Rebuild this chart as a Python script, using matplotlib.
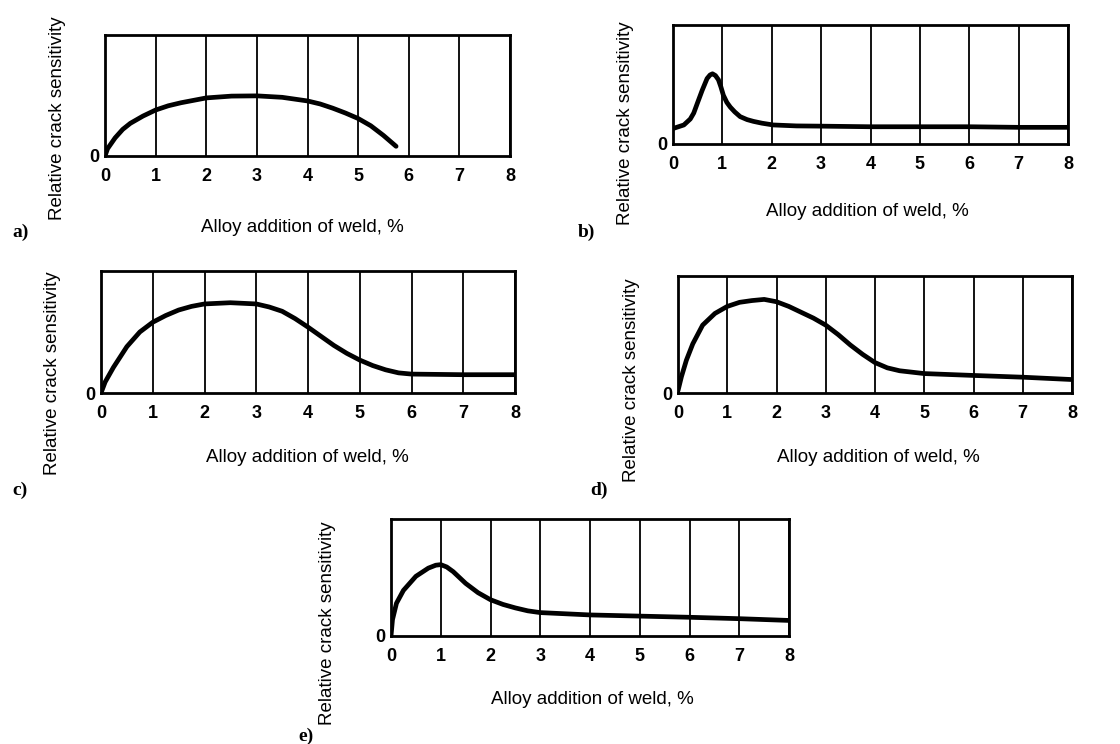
import matplotlib
matplotlib.use("Agg")
import matplotlib.pyplot as plt

# curves (y = fraction of box height)
a_x = [0, 0.05, 0.2, 0.35, 0.5, 0.75, 1, 1.25, 1.5, 2, 2.5, 3, 3.5, 4, 4.25, 4.5, 4.75, 5, 5.25, 5.5, 5.75]
a_y = [0, 0.06, 0.15, 0.22, 0.27, 0.33, 0.38, 0.415, 0.44, 0.48, 0.495, 0.497, 0.485, 0.455, 0.43, 0.395, 0.355, 0.31, 0.25, 0.17, 0.08]

b_x = [0, 0.22, 0.35, 0.42, 0.5, 0.59, 0.65, 0.69, 0.75, 0.8, 0.86, 0.92, 0.97, 1.02, 1.09, 1.16, 1.25, 1.36, 1.5, 1.63, 1.8, 2.03, 2.5, 3, 4, 5, 6, 7, 8]
b_y = [0.13, 0.16, 0.21, 0.26, 0.35, 0.45, 0.51, 0.55, 0.58, 0.59, 0.575, 0.54, 0.48, 0.41, 0.35, 0.31, 0.27, 0.23, 0.205, 0.19, 0.175, 0.16, 0.152, 0.15, 0.145, 0.145, 0.145, 0.14, 0.14]

c_x = [0, 0.08, 0.24, 0.5, 0.75, 1, 1.25, 1.5, 1.75, 2, 2.5, 3, 3.25, 3.5, 3.75, 4, 4.25, 4.5, 4.75, 5, 5.25, 5.5, 5.75, 6, 7, 8]
c_y = [0, 0.09, 0.21, 0.38, 0.5, 0.58, 0.635, 0.68, 0.71, 0.73, 0.74, 0.73, 0.705, 0.67, 0.61, 0.54, 0.465, 0.39, 0.325, 0.27, 0.225, 0.19, 0.165, 0.155, 0.15, 0.15]

d_x = [0, 0.07, 0.17, 0.3, 0.5, 0.75, 1, 1.25, 1.5, 1.75, 2, 2.25, 2.5, 2.75, 3, 3.25, 3.5, 3.75, 4, 4.25, 4.5, 5, 6, 7, 8]
d_y = [0.02, 0.14, 0.28, 0.42, 0.58, 0.68, 0.74, 0.775, 0.79, 0.8, 0.78, 0.74, 0.69, 0.64, 0.58, 0.5, 0.41, 0.33, 0.26, 0.215, 0.19, 0.166, 0.15, 0.135, 0.115]

e_x = [0, 0.03, 0.11, 0.25, 0.5, 0.75, 0.9, 1, 1.12, 1.25, 1.5, 1.75, 2, 2.25, 2.5, 2.75, 3, 3.5, 4, 5, 6, 7, 8]
e_y = [0, 0.14, 0.28, 0.39, 0.51, 0.58, 0.605, 0.61, 0.59, 0.55, 0.45, 0.37, 0.31, 0.27, 0.24, 0.215, 0.2, 0.19, 0.18, 0.17, 0.16, 0.148, 0.133]

xticks = [0, 1, 2, 3, 4, 5, 6, 7, 8]
xlabel = "Alloy addition of weld, %"
ylabel = "Relative crack sensitivity"
letters = ["a)", "b)", "c)", "d)", "e)"]

W, H = 1120, 744
fig = plt.figure(figsize=(11.2, 7.44), dpi=100)

# axes boxes in pixels: left, top, right, bottom
boxes = [(105, 35, 510, 156), (673, 25, 1068, 144), (101, 271, 515, 393),
         (678, 276, 1072, 393), (391, 519, 789, 636)]
ylab_pos = [(58, 118), (625, 123), (53, 373), (632, 380), (328, 623)]
xlab_pos = [(302, 228), (867, 211), (307, 458), (878, 457), (592, 700)]
let_pos = [(12, 232), (578, 232), (12, 490), (590, 490), (298, 736)]
curves = [(a_x, a_y), (b_x, b_y), (c_x, c_y), (d_x, d_y), (e_x, e_y)]

sans = "Liberation Sans"
for i, (l, t, r, b) in enumerate(boxes):
    ax = fig.add_axes([l / W, 1 - b / H, (r - l) / W, (b - t) / H])
    x, y = curves[i]
    ax.plot(x, y, color="black", lw=3.4, solid_capstyle="round", solid_joinstyle="round", zorder=3)
    ax.set_xlim(0, 8)
    ax.set_ylim(0, 1)
    ax.set_xticks(xticks)
    ax.set_xticklabels([str(v) for v in xticks], fontfamily=sans, fontweight="bold", fontsize=13)
    ax.set_yticks([0])
    ax.set_yticklabels(["0"], fontfamily=sans, fontweight="bold", fontsize=13)
    ax.tick_params(axis="both", length=0)
    ax.tick_params(axis="x", pad=8.5)
    ax.tick_params(axis="y", pad=4)
    ax.grid(axis="x", color="black", lw=1.3)
    for s in ax.spines.values():
        s.set_linewidth(2)
        s.set_color("black")
    fig.text(ylab_pos[i][0] / W, 1 - ylab_pos[i][1] / H, ylabel, rotation=90,
             ha="center", va="center", fontfamily=sans, fontsize=13.5)
    fig.text(xlab_pos[i][0] / W, 1 - xlab_pos[i][1] / H, xlabel,
             ha="center", va="center", fontfamily=sans, fontsize=13.5)
    fig.text(let_pos[i][0] / W, 1 - let_pos[i][1] / H, letters[i],
             ha="left", va="center", fontfamily="Liberation Serif", fontweight="bold", fontsize=14)

fig.savefig("out.png", dpi=100)
